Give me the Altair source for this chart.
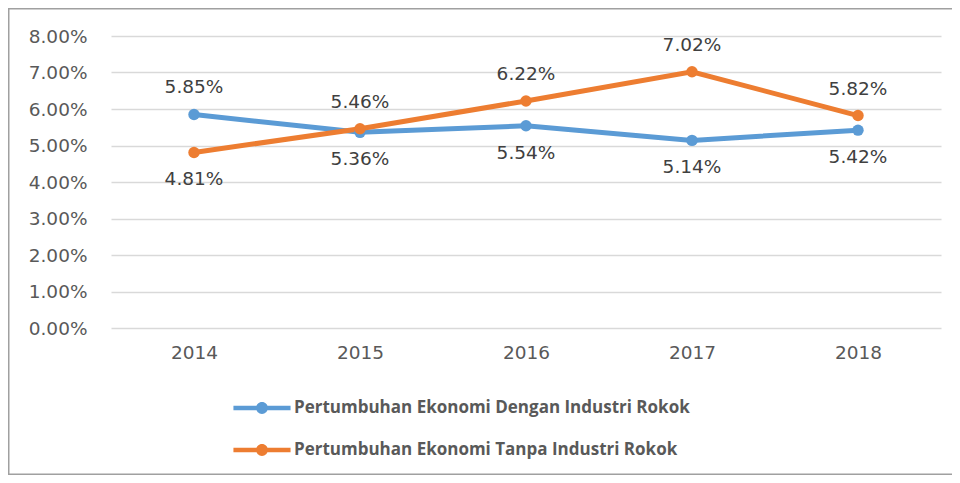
import altair as alt
import pandas as pd

years = ["2014", "2015", "2016", "2017", "2018"]
dengan = [5.85, 5.36, 5.54, 5.14, 5.42]
tanpa = [4.81, 5.46, 6.22, 7.02, 5.82]
series_names = [
    "Pertumbuhan Ekonomi Dengan Industri Rokok",
    "Pertumbuhan Ekonomi Tanpa Industri Rokok",
]
colors = ["#5B9BD5", "#ED7D31"]
y_ticks = [0, 1, 2, 3, 4, 5, 6, 7, 8]

rows = []
for name, vals, col in zip(series_names, [dengan, tanpa], colors):
    for yr, v in zip(years, vals):
        rows.append({"year": yr, "series": name, "value": v / 100, "hex": col})
df = pd.DataFrame(rows)

FONT = "DejaVu Sans"
LFONT = "Open Sans"
TXT = "#595959"

x_enc = alt.X(
    "year:N",
    sort=years,
    scale=alt.Scale(type="point", padding=0.5),
    axis=alt.Axis(
        title=None, labelAngle=0, domain=False, ticks=False, grid=False,
        labelFont=FONT, labelFontSize=18.5, labelColor=TXT, labelPadding=15,
    ),
)
y_enc = alt.Y(
    "value:Q",
    scale=alt.Scale(domain=[0, 0.08], nice=False),
    axis=alt.Axis(
        title=None, values=[t / 100 for t in y_ticks], format=".2%",
        domain=False, ticks=False, grid=True, gridColor="#d9d9d9", gridWidth=1.5,
        labelFont=FONT, labelFontSize=18.5, labelColor=TXT, labelPadding=24,
    ),
)

color_scale = alt.Scale(domain=series_names, range=colors)
base = alt.Chart(df).encode(x=x_enc, y=y_enc)

lines = base.mark_line(strokeWidth=5).encode(
    color=alt.Color("hex:N", scale=None),
    detail="series:N",
)

legend_path = (
    "M-1.36,-0.11H1.36V0.11H-1.36Z "
    "M-0.28,0A0.28,0.28 0 1,1 0.28,0A0.28,0.28 0 1,1 -0.28,0Z"
)

points = base.mark_circle(size=130, opacity=1).encode(
    color=alt.Color(
        "series:N",
        scale=color_scale,
        legend=alt.Legend(
            title=None, orient="none", legendX=130, legendY=351, direction="vertical",
            symbolType=legend_path, symbolSize=1764, symbolStrokeWidth=0, symbolOpacity=1,
            labelFont=LFONT, labelFontSize=17, labelFontWeight="bold", labelColor=TXT,
            labelLimit=600, labelOffset=11, padding=0, rowPadding=13,
        ),
    )
)

lab = base.transform_joinaggregate(
    maxv="max(value)", groupby=["year"]
).transform_calculate(up="datum.value == datum.maxv")

labels_up = lab.transform_filter("datum.up").mark_text(
    dy=-27, font=FONT, fontSize=18.5, color="#404040", baseline="middle"
).encode(text=alt.Text("value:Q", format=".2%"))
labels_dn = lab.transform_filter("!datum.up").mark_text(
    dy=27, font=FONT, fontSize=18.5, color="#404040", baseline="middle"
).encode(text=alt.Text("value:Q", format=".2%"))

fdf = pd.DataFrame({"f": [0]})
FR = "#a0a0a0"
frame_top = alt.Chart(fdf).mark_rule(color=FR, strokeWidth=1.5).encode(
    x=alt.value(-103), x2=alt.value(2000), y=alt.value(-27.25)
)
frame_bottom = alt.Chart(fdf).mark_rule(color=FR, strokeWidth=1.5).encode(
    x=alt.value(-103), x2=alt.value(2000), y=alt.value(438.25)
)
frame_left = alt.Chart(fdf).mark_rule(color=FR, strokeWidth=1.5).encode(
    x=alt.value(-102.25), y=alt.value(-28), y2=alt.value(439)
)

chart = alt.layer(
    frame_top, frame_bottom, frame_left, lines, points, labels_up, labels_dn
).properties(
    width=830, height=292,
    autosize=alt.AutoSizeParams(type="none"),
    padding={"left": 103, "top": 28, "right": 11, "bottom": 147},
).configure_view(strokeWidth=0, stroke="transparent")

chart.save("out.html", embed_options={"renderer": "svg", "actions": False})
